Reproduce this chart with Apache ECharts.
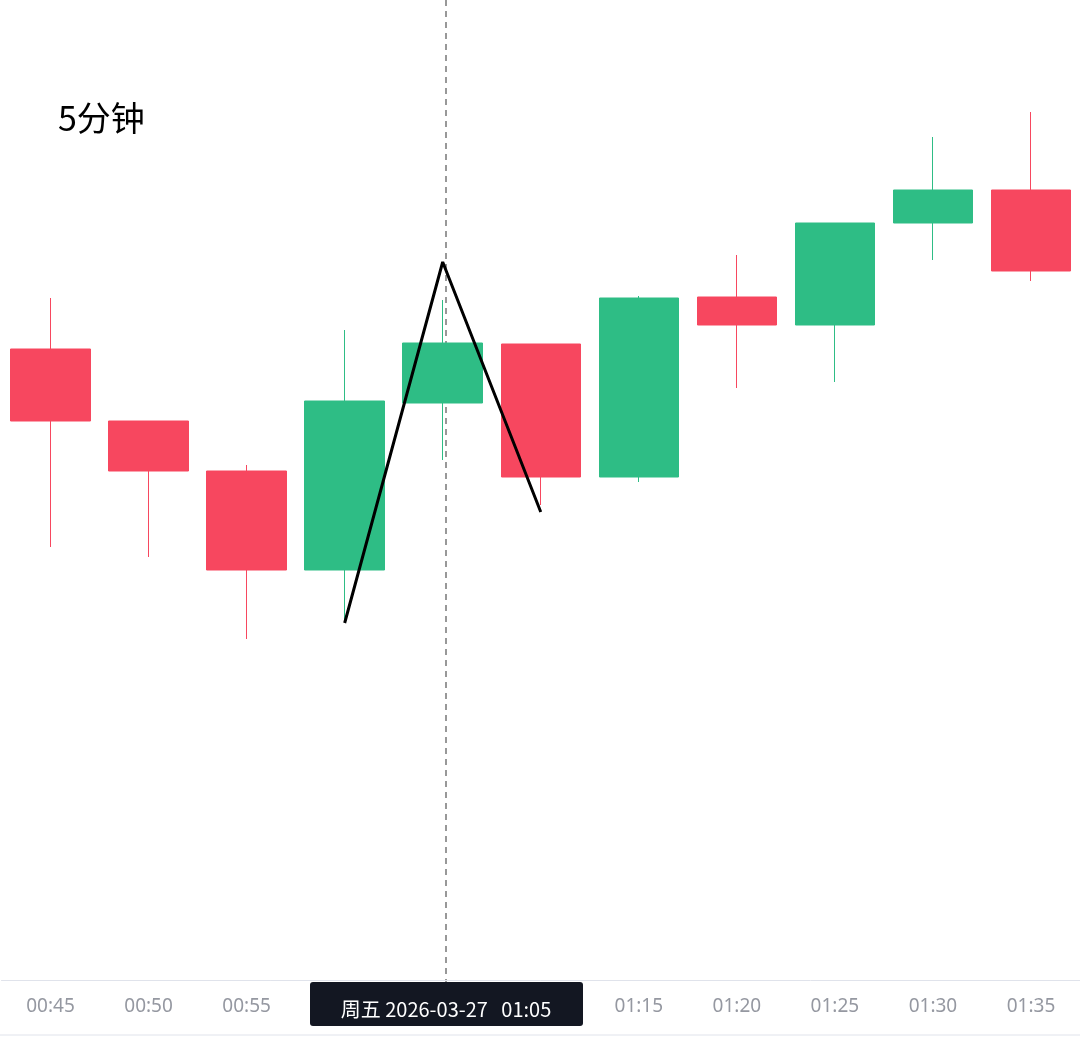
<!DOCTYPE html>
<html><head><meta charset="utf-8">
<script src="https://cdn.jsdelivr.net/npm/echarts@6/dist/echarts.min.js"></script>
<style>html,body{margin:0;padding:0;background:#fff}#c{width:1080px;height:1057px}</style>
</head><body><div id="c"></div>
<script>
// times along the x axis
const times = ['00:45','00:50','00:55','01:00','01:05','01:10','01:15','01:20','01:25','01:30','01:35'];
// [open, close, low, high]
const candles = [
  [651, 579, 453, 702],
  [579, 529, 443, 579],
  [529, 430, 361, 535],
  [430, 599, 380, 670],
  [597, 657, 540, 700],
  [656, 523, 495, 656],
  [523, 702, 518, 704],
  [703, 675, 612, 745],
  [675, 777, 618, 777],
  [777, 810, 740, 863],
  [810, 729, 719, 888]
];
// zigzag points 1-2-3
const wave = [null, null, null, 377, 738, 488, null, null, null, null, null];
const waveLabels = ['', '', '', '1', '2', '3', '', '', '', '', ''];
const hidden = ['01:00', '01:05', '01:10'];

const chart = echarts.init(document.getElementById('c'));
chart.setOption({
  animation: false,
  grid: { left: 1.5, right: -9.5, top: 0, bottom: 77 },
  xAxis: {
    type: 'category', data: times, boundaryGap: true,
    axisLine: { lineStyle: { color: '#e0e3eb' } }, axisTick: { show: false },
    axisLabel: { color: '#9598a1', fontSize: 19, margin: 17, fontFamily: 'Noto Sans',
      formatter: v => hidden.includes(v) ? '' : v, interval: 0 }
  },
  yAxis: { type: 'value', min: 20, max: 1000, show: false, splitLine: { show: false } },
  series: [
    { type: 'candlestick', data: candles, barWidth: 80,
      itemStyle: { color: '#2ebd85', color0: '#f7475f', borderColor: '#2ebd85', borderColor0: '#f7475f', borderWidth: 1 } },
    { type: 'line', data: wave, connectNulls: false, symbol: 'none',
      lineStyle: { color: '#000', width: 3 }, z: 5,
      label: { show: true, fontSize: 34, color: '#000', fontFamily: 'Noto Sans',
        formatter: p => waveLabels[p.dataIndex],
        position: 'inside',
        offset: [0, 0] },
      labelLayout: p => {
        const offs = { 3: [17, 65], 4: [15, -28], 5: [17, 53] };
        const o = offs[p.dataIndex] || [0, 0];
        return { dx: o[0], dy: o[1] };
      } }
  ],
  graphic: [
    { type: 'line', shape: { x1: 446, y1: 0, x2: 446, y2: 982 }, style: { stroke: '#777', lineWidth: 1.5, lineDash: [6, 5] } },
    { type: 'line', shape: { x1: 0, y1: 1035, x2: 1080, y2: 1035 }, style: { stroke: '#e0e3eb', lineWidth: 1 } },
    { type: 'rect', shape: { x: 310, y: 982, width: 273, height: 44, r: 3 }, style: { fill: '#131722' } },
    { type: 'text', x: 446, y: 1009, style: { text: '周五 2026-03-27   01:05', fill: '#fff', fontSize: 20,
      fontFamily: 'Noto Sans CJK SC', align: 'center', verticalAlign: 'middle' } },
    { type: 'text', x: 58, y: 118, style: { text: '5分钟', fill: '#000', fontSize: 34,
      fontFamily: 'Noto Sans CJK SC', verticalAlign: 'middle' } }
  ]
});
</script></body></html>
